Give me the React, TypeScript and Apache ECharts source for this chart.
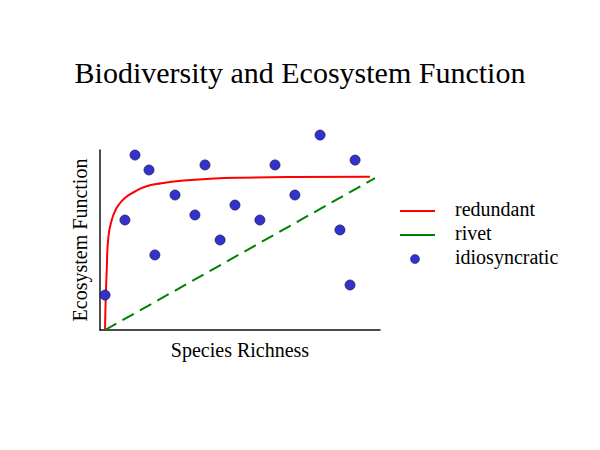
import React, { useEffect, useRef } from "react";
import * as echarts from "echarts";

const titleText = "Biodiversity and Ecosystem Function";
const xAxisName = "Species Richness";
const yAxisName = "Ecosystem Function";
const seriesNames = ["redundant", "rivet", "idiosyncratic"];
const seriesColors = ["#ff0000", "#008000", "#3333cc"];

// redundant curve (x, y)
const redundantX = [1.8, 2.0, 2.4, 3.0, 4.2, 5.5, 7.1, 9.0, 11.3, 16.1, 22.0, 29.8, 39.3, 51.2, 69.0, 96.4];
const redundantY = [0, 15, 33.3, 51.8, 61.1, 66.5, 70.4, 73.5, 75.9, 79.6, 81.5, 83.0, 84.0, 84.6, 85, 85.2];

// rivet line
const rivetX = [1.8, 98.2];
const rivetY = [0, 84.4];

// idiosyncratic points
const idioX = [1.8, 8.9, 12.5, 17.5, 19.6, 26.8, 33.9, 37.5, 42.9, 48.2, 57.1, 62.5, 69.6, 78.6, 85.7, 89.3, 91.1];
const idioY = [19.4, 61.1, 97.2, 88.9, 41.7, 75, 63.9, 91.7, 50, 69.4, 61.1, 91.7, 75, 108.3, 55.6, 25, 94.4];

const FONT = "'Liberation Serif', 'Times New Roman', serif";

export default function App() {
  const ref = useRef<HTMLDivElement>(null);
  useEffect(() => {
    document.body.style.margin = "0";
    const chart = echarts.init(ref.current!, null, { renderer: "svg" });
    const zip = (xs: number[], ys: number[]) => xs.map((x, i) => [x, ys[i]]);
    const rowY = [211, 235, 259];
    const legendText = (i: number) => ({
      type: "text",
      left: 455,
      top: rowY[i] - 12,
      style: { text: seriesNames[i], fontFamily: FONT, fontSize: 20, fill: "#000" },
    });
    chart.setOption({
      animation: false,
      backgroundColor: "#ffffff",
      title: {
        text: titleText,
        left: "center",
        top: 52,
        textStyle: { fontFamily: FONT, fontSize: 30, fontWeight: "normal", color: "#000" },
      },
      graphic: [
        { type: "line", shape: { x1: 400, y1: rowY[0], x2: 435, y2: rowY[0] }, style: { stroke: seriesColors[0], lineWidth: 2 } },
        { type: "line", shape: { x1: 400, y1: rowY[1], x2: 435, y2: rowY[1] }, style: { stroke: seriesColors[1], lineWidth: 2 } },
        { type: "circle", shape: { cx: 415, cy: rowY[2], r: 4.5 }, style: { fill: seriesColors[2], stroke: "#1a1a66", lineWidth: 0.5 } },
        legendText(0),
        legendText(1),
        legendText(2),
      ],
      grid: { left: 100, top: 150, width: 280, height: 180 },
      xAxis: {
        type: "value",
        min: 0,
        max: 100,
        name: xAxisName,
        nameLocation: "middle",
        nameGap: 10,
        nameTextStyle: { fontFamily: FONT, fontSize: 20, color: "#000" },
        axisLine: { show: true, lineStyle: { color: "#111", width: 1.5 } },
        axisTick: { show: false },
        axisLabel: { show: false },
        splitLine: { show: false },
      },
      yAxis: {
        type: "value",
        min: 0,
        max: 100,
        name: yAxisName,
        nameLocation: "middle",
        nameGap: 10,
        nameTextStyle: { fontFamily: FONT, fontSize: 20, color: "#000" },
        axisLine: { show: true, lineStyle: { color: "#111", width: 1.5 } },
        axisTick: { show: false },
        axisLabel: { show: false },
        splitLine: { show: false },
      },
      series: [
        {
          name: seriesNames[0],
          type: "line",
          data: zip(redundantX, redundantY),
          smooth: 0.5,
          symbol: "none",
          lineStyle: { color: seriesColors[0], width: 2 },
          itemStyle: { color: seriesColors[0] },
          z: 2,
        },
        {
          name: seriesNames[1],
          type: "line",
          data: zip(rivetX, rivetY),
          symbol: "none",
          lineStyle: { color: seriesColors[1], width: 2, type: [13, 7] },
          itemStyle: { color: seriesColors[1] },
          z: 2,
        },
        {
          name: seriesNames[2],
          type: "scatter",
          data: zip(idioX, idioY),
          symbolSize: 10,
          clip: false,
          itemStyle: { color: seriesColors[2], borderColor: "#1a1a66", borderWidth: 0.8, opacity: 1 },
          z: 3,
        },
      ],
    });
    return () => chart.dispose();
  }, []);
  return <div ref={ref} style={{ width: 600, height: 450 }} />;
}
